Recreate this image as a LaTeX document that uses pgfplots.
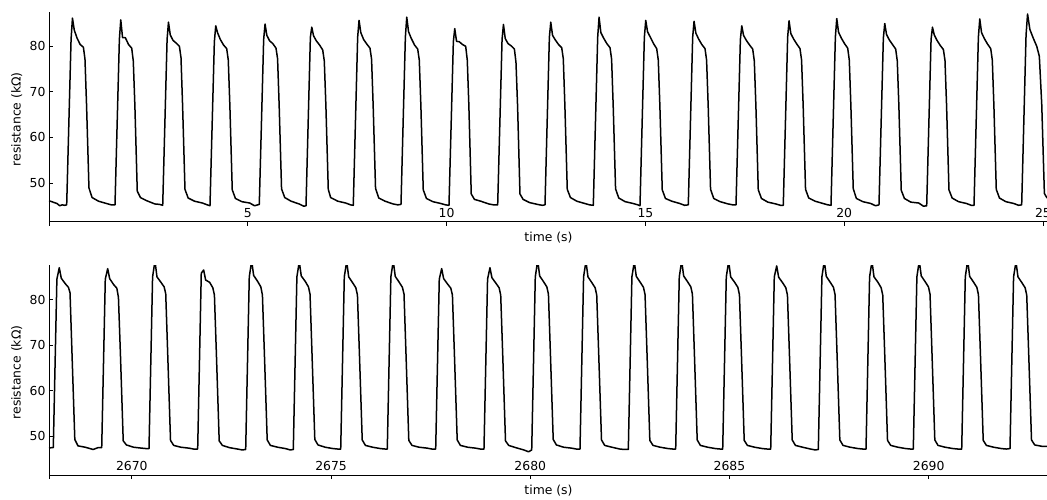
\documentclass[border=0pt]{standalone}
\usepackage{fontspec}
\setmainfont{DejaVu Sans}
\usepackage{pgfplots}
\pgfplotsset{compat=1.18}

\pgfplotsset{
  trace/.style={
    scale only axis, width=999pt, height=210pt,
    ymin=41.5, ymax=87.6,
    axis x line*=bottom, axis y line*=left,
    axis line style={black, line width=0.8pt},
    tick style={black, line width=0.8pt},
    major tick length=4pt,
    xtick align=outside, ytick align=inside,
    ytick={50,60,70,80},
    font=\fontsize{12.4}{15}\selectfont,
    /pgf/number format/assume math mode=true,
    /pgf/number format/1000 sep={},
    xticklabel style={anchor=south, yshift=4.5pt},
    xlabel style={at={(axis description cs:0.5,0)}, anchor=center, yshift=-16pt},
    ylabel style={at={(axis description cs:-0.0323,0.488)}, anchor=center},
    xlabel={time (s)}, ylabel={resistance (kΩ)},
  },
  sig/.style={black, line width=1.5pt, line join=round, mark=none},
}

\begin{document}
\begin{tikzpicture}
\begin{axis}[trace, name=top, at={(49pt,-221.7pt)}, anchor=south west,
  xmin=0, xmax=25.126, xtick={5,10,15,20,25}]
\addplot[sig] coordinates {
(0,46.1) (0.1,45.8) (0.2,45.5) (0.27,45.0) (0.33,45.2) (0.40,45.1)
(0.445,45.2) (0.555,81.5) (0.590,86.2) (0.635,83.6) (0.705,81.8) (0.785,80.4) (0.865,79.8) (0.905,77.2) (0.945,67) (1.005,48.9) (1.085,46.8) (1.245,46.0) (1.445,45.5) (1.565,45.2)
(1.660,45.2) (1.770,81.5) (1.805,85.8) (1.850,81.9) (1.920,81.9) (2.000,80.4) (2.080,79.6) (2.120,76.8) (2.160,67) (2.220,48.2) (2.300,46.8) (2.460,46.1) (2.660,45.4) (2.780,45.3)
(2.860,45.1) (2.970,81.5) (3.005,85.3) (3.050,82.5) (3.120,81.3) (3.200,80.7) (3.280,80.0) (3.320,77.5) (3.360,67) (3.420,48.6) (3.500,46.7) (3.660,46.0) (3.860,45.6) (3.980,45.2)
(4.049,45.0) (4.159,81.0) (4.194,84.5) (4.239,83.0) (4.309,81.5) (4.389,80.3) (4.469,79.5) (4.509,77.0) (4.549,67) (4.609,48.5) (4.689,46.6) (4.849,45.9) (5.049,45.6) (5.169,45.0)
(5.289,45.3) (5.399,81.5) (5.434,84.9) (5.479,82.4) (5.549,81.2) (5.629,80.6) (5.709,79.6) (5.749,77.3) (5.789,67) (5.849,48.7) (5.929,46.8) (6.089,46.0) (6.289,45.4) (6.409,44.9)
(6.464,45.0) (6.574,82.0) (6.609,84.2) (6.654,82.3) (6.724,81.2) (6.804,80.3) (6.884,79.2) (6.924,76.8) (6.964,67) (7.024,48.6) (7.084,46.8) (7.264,46.0) (7.464,45.6) (7.584,45.2)
(7.653,45.1) (7.763,82.0) (7.798,85.7) (7.843,83.0) (7.913,81.5) (7.993,80.5) (8.073,79.6) (8.113,77.2) (8.153,67) (8.213,48.8) (8.293,46.7) (8.453,46.0) (8.653,45.4) (8.773,45.2)
(8.853,45.3) (8.963,82.0) (8.998,86.4) (9.043,83.2) (9.113,81.7) (9.193,80.3) (9.273,79.4) (9.313,77.0) (9.353,67) (9.413,48.5) (9.493,46.6) (9.653,45.9) (9.853,45.5) (9.973,45.2)
(10.060,45.1) (10.170,81.0) (10.205,83.9) (10.250,81.1) (10.320,81.0) (10.400,80.4) (10.480,80.0) (10.520,77.0) (10.560,67) (10.620,47.6) (10.700,46.4) (10.860,46.0) (11.060,45.4) (11.180,45.2)
(11.285,45.2) (11.395,81.5) (11.430,84.8) (11.475,81.7) (11.545,80.6) (11.625,80.1) (11.705,79.4) (11.745,76.5) (11.785,67) (11.845,47.6) (11.925,46.4) (12.085,45.7) (12.285,45.3) (12.405,45.1)
(12.475,45.2) (12.585,82.0) (12.620,85.3) (12.665,82.4) (12.735,81.4) (12.815,80.4) (12.895,79.7) (12.935,77.3) (12.975,67) (13.035,48.6) (13.115,46.8) (13.275,46.0) (13.475,45.5) (13.595,45.2)
(13.690,45.1) (13.800,82.0) (13.835,86.4) (13.880,83.0) (13.950,81.8) (14.030,80.6) (14.110,79.7) (14.150,77.2) (14.190,67) (14.250,48.7) (14.330,46.7) (14.490,45.9) (14.690,45.5) (14.810,45.2)
(14.864,45.0) (14.974,82.0) (15.009,85.7) (15.054,83.2) (15.124,82.0) (15.204,80.6) (15.284,79.5) (15.324,77.0) (15.364,67) (15.424,48.5) (15.504,46.6) (15.664,46.0) (15.864,45.5) (15.984,45.1)
(16.079,45.2) (16.189,82.0) (16.224,85.5) (16.269,82.9) (16.339,81.6) (16.419,80.4) (16.499,79.5) (16.539,77.0) (16.579,67) (16.639,48.6) (16.719,46.6) (16.879,45.9) (17.079,45.4) (17.199,45.2)
(17.279,45.2) (17.389,81.5) (17.424,84.5) (17.469,82.4) (17.539,81.3) (17.619,80.3) (17.699,79.4) (17.739,76.8) (17.779,67) (17.839,48.5) (17.919,46.6) (18.079,45.8) (18.279,45.4) (18.399,45.1)
(18.468,45.1) (18.578,82.0) (18.613,85.6) (18.658,82.8) (18.728,81.6) (18.808,80.5) (18.888,79.5) (18.928,77.0) (18.968,67) (19.028,48.6) (19.108,46.7) (19.268,46.0) (19.468,45.5) (19.588,45.2)
(19.668,45.1) (19.778,82.0) (19.813,86.1) (19.858,83.1) (19.928,81.8) (20.008,80.6) (20.088,79.6) (20.128,77.0) (20.168,67) (20.228,48.7) (20.308,46.6) (20.468,45.9) (20.668,45.5) (20.788,45.0)
(20.875,45.2) (20.985,81.8) (21.020,85.0) (21.065,82.6) (21.135,81.4) (21.215,80.4) (21.295,79.4) (21.335,76.8) (21.375,67) (21.435,48.4) (21.515,46.6) (21.675,45.8) (21.875,45.6) (21.995,44.9)
(22.075,45.0) (22.185,81.5) (22.220,84.2) (22.265,82.5) (22.335,81.3) (22.415,80.2) (22.495,79.3) (22.535,76.9) (22.575,67) (22.635,48.5) (22.715,46.7) (22.875,45.9) (23.075,45.5) (23.195,45.1)
(23.265,45.1) (23.375,82.0) (23.410,86.0) (23.455,83.0) (23.525,81.7) (23.605,80.5) (23.685,79.5) (23.725,77.0) (23.765,67) (23.825,48.6) (23.905,46.7) (24.065,45.9) (24.265,45.5) (24.385,45.1)
(24.464,45.2) (24.574,82.5) (24.612,87.1) (24.670,83.7) (24.755,81.8) (24.843,80.0) (24.908,77.8) (24.969,67.2) (25.035,47.7) (25.095,46.8) (25.25,46.2)
};
\end{axis}

\begin{axis}[trace, name=bot, at={(49pt,-475pt)}, anchor=south west,
  xmin=2667.92, xmax=2692.995, xtick={2670,2675,2680,2685,2690}]
\addplot[sig] coordinates {
(2667.92,47.4) (2667.98,47.5)
(2668.028,47.5) (2668.118,84.5) (2668.178,87.0) (2668.228,84.7) (2668.328,83.5) (2668.408,82.7) (2668.448,81.5) (2668.498,68) (2668.568,49.3) (2668.648,47.9) (2668.828,47.6) (2669.028,47.1) (2669.148,47.5)
(2669.243,47.5) (2669.333,84.5) (2669.393,86.8) (2669.443,84.6) (2669.543,83.3) (2669.623,82.5) (2669.663,80.5) (2669.713,68) (2669.783,49.0) (2669.863,48.1) (2670.043,47.6) (2670.243,47.4) (2670.363,47.3)
(2670.430,47.3) (2670.520,85.0) (2670.580,88.5) (2670.630,85.0) (2670.730,83.8) (2670.810,82.8) (2670.850,81.3) (2670.900,68) (2670.970,49.1) (2671.050,48.0) (2671.230,47.6) (2671.430,47.4) (2671.550,47.2)
(2671.652,47.2) (2671.742,85.8) (2671.802,86.5) (2671.852,84.3) (2671.952,83.8) (2672.032,82.6) (2672.072,81.0) (2672.122,68) (2672.192,49.0) (2672.272,48.0) (2672.452,47.5) (2672.652,47.2) (2672.772,47.0)
(2672.857,47.1) (2672.947,85.0) (2673.007,88.5) (2673.057,85.3) (2673.157,84.0) (2673.237,82.8) (2673.277,81.0) (2673.327,68) (2673.397,49.2) (2673.477,48.0) (2673.657,47.6) (2673.857,47.3) (2673.977,47.0)
(2674.052,47.1) (2674.142,85.0) (2674.202,88.3) (2674.252,85.2) (2674.352,84.0) (2674.432,82.8) (2674.472,81.2) (2674.522,68) (2674.592,49.3) (2674.672,48.1) (2674.852,47.6) (2675.052,47.3) (2675.172,47.2)
(2675.242,47.2) (2675.332,85.0) (2675.392,88.4) (2675.442,85.0) (2675.542,83.7) (2675.622,82.6) (2675.662,81.0) (2675.712,68) (2675.782,49.2) (2675.862,48.0) (2676.042,47.6) (2676.242,47.3) (2676.362,47.2)
(2676.411,47.2) (2676.501,85.0) (2676.561,88.5) (2676.611,85.1) (2676.711,83.8) (2676.791,82.7) (2676.831,81.2) (2676.881,68) (2676.951,49.1) (2677.031,48.0) (2677.211,47.6) (2677.411,47.4) (2677.531,47.2)
(2677.626,47.2) (2677.716,84.5) (2677.776,86.8) (2677.826,84.6) (2677.926,83.4) (2678.006,82.5) (2678.046,81.0) (2678.096,68) (2678.166,49.2) (2678.246,48.0) (2678.426,47.6) (2678.626,47.4) (2678.746,47.2)
(2678.838,47.2) (2678.928,84.5) (2678.988,87.0) (2679.038,84.8) (2679.138,83.6) (2679.218,82.6) (2679.258,81.0) (2679.308,68) (2679.378,49.0) (2679.458,48.0) (2679.638,47.5) (2679.838,47.0) (2679.958,46.6)
(2680.036,47.0) (2680.126,85.0) (2680.186,88.6) (2680.236,85.2) (2680.336,83.9) (2680.416,82.8) (2680.456,81.2) (2680.506,68) (2680.576,49.3) (2680.656,48.1) (2680.836,47.6) (2681.036,47.4) (2681.156,47.2)
(2681.248,47.2) (2681.338,85.0) (2681.398,88.4) (2681.448,85.0) (2681.548,83.7) (2681.628,82.6) (2681.668,81.0) (2681.718,68) (2681.788,49.2) (2681.868,48.0) (2682.048,47.6) (2682.248,47.2) (2682.368,47.1)
(2682.461,47.1) (2682.551,85.0) (2682.611,88.3) (2682.661,85.1) (2682.761,83.8) (2682.841,82.7) (2682.881,81.1) (2682.931,68) (2683.001,49.1) (2683.081,48.0) (2683.261,47.6) (2683.461,47.3) (2683.581,47.2)
(2683.650,47.2) (2683.740,85.0) (2683.800,88.5) (2683.850,85.2) (2683.950,83.9) (2684.030,82.8) (2684.070,81.2) (2684.120,68) (2684.190,49.2) (2684.270,48.0) (2684.450,47.6) (2684.650,47.3) (2684.770,47.2)
(2684.830,47.2) (2684.920,85.0) (2684.980,88.4) (2685.030,85.0) (2685.130,83.8) (2685.210,82.7) (2685.250,81.1) (2685.300,68) (2685.370,49.1) (2685.450,48.0) (2685.630,47.6) (2685.830,47.3) (2685.950,47.2)
(2686.035,47.2) (2686.125,85.0) (2686.185,87.4) (2686.235,84.9) (2686.335,83.7) (2686.415,82.6) (2686.455,81.0) (2686.505,68) (2686.575,49.2) (2686.655,48.0) (2686.835,47.6) (2687.035,47.2) (2687.155,47.0)
(2687.230,47.1) (2687.320,85.0) (2687.380,88.5) (2687.430,85.1) (2687.530,83.8) (2687.610,82.7) (2687.650,81.1) (2687.700,68) (2687.770,49.2) (2687.850,48.0) (2688.030,47.6) (2688.230,47.3) (2688.350,47.2)
(2688.427,47.2) (2688.517,85.0) (2688.577,88.4) (2688.627,85.0) (2688.727,83.8) (2688.807,82.6) (2688.847,81.0) (2688.897,68) (2688.967,49.1) (2689.047,48.0) (2689.227,47.6) (2689.427,47.3) (2689.547,47.2)
(2689.614,47.2) (2689.704,85.0) (2689.764,88.5) (2689.814,85.2) (2689.914,83.9) (2689.994,82.8) (2690.034,81.2) (2690.084,68) (2690.154,49.2) (2690.234,48.0) (2690.414,47.6) (2690.614,47.3) (2690.734,47.2)
(2690.829,47.2) (2690.919,85.0) (2690.979,88.6) (2691.029,85.1) (2691.129,83.8) (2691.209,82.7) (2691.249,81.1) (2691.299,68) (2691.369,49.1) (2691.449,48.0) (2691.629,47.6) (2691.829,47.3) (2691.949,47.2)
(2692.041,47.3) (2692.131,85.0) (2692.191,88.3) (2692.241,85.0) (2692.341,83.7) (2692.421,82.6) (2692.461,81.0) (2692.511,68) (2692.581,49.2) (2692.661,48.1) (2692.841,47.8) (2693.041,47.8)
};
\end{axis}

% left spines run a little below the bottom spines
\draw[black, line width=0.8pt] (top.south west) -- ++(0,-4pt);
\draw[black, line width=0.8pt] (bot.south west) -- ++(0,-4pt);

\pgfresetboundingbox
\path (0,0) rectangle (1047pt,-499pt);
\end{tikzpicture}
\end{document}
